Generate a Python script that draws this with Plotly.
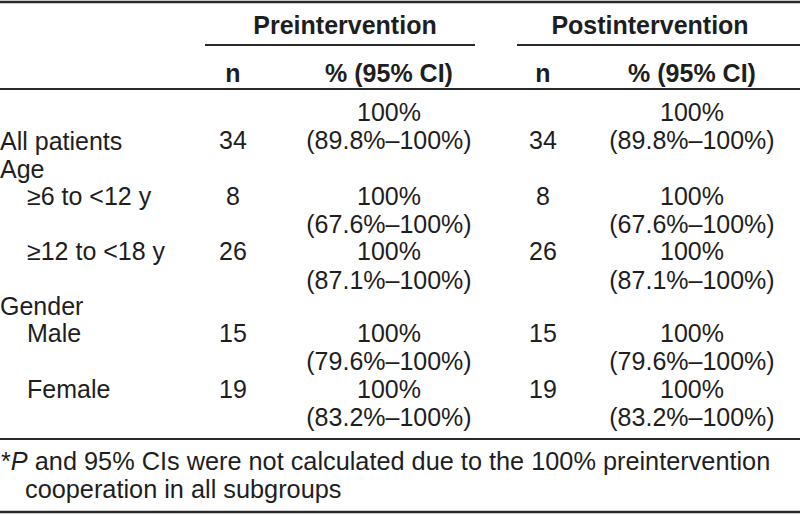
import plotly.graph_objects as go

# ---------------- data ----------------
row_labels = ["All patients", "Age", "≥6 to <12 y", "≥12 to <18 y", "Gender", "Male", "Female"]
row_indent = [0, 0, 1, 1, 0, 1, 1]

n_pre = [34, None, 8, 26, None, 15, 19]
pct_pre = [100, None, 100, 100, None, 100, 100]
ci_pre_low = [89.8, None, 67.6, 87.1, None, 79.6, 83.2]
ci_pre_high = [100, None, 100, 100, None, 100, 100]

n_post = [34, None, 8, 26, None, 15, 19]
pct_post = [100, None, 100, 100, None, 100, 100]
ci_post_low = [89.8, None, 67.6, 87.1, None, 79.6, 83.2]
ci_post_high = [100, None, 100, 100, None, 100, 100]

group_headers = ["Preintervention", "Postintervention"]
sub_headers = ["n", "% (95% CI)"]
footnote_lines = [
    "*<i>P</i> and 95% CIs were not calculated due to the 100% preintervention",
    "cooperation in all subgroups",
]

# ---------------- layout constants (positions / styles) ----------------
W, H = 800, 515
FONT = "Liberation Sans, Arial, sans-serif"
FS = 25
TXT = "#1e1e1e"
LINE = "#2a2a2a"
DY = 3  # vertical correction of text anchor

label_x = [0, 27]
label_y = [141, 169, 196, 251, 306, 333, 389]
pct_y = [112, None, 196, 251, None, 333, 389]
ci_y = [140, None, 224, 280, None, 361, 417]
n_y = [140, None, 196, 251, None, 333, 389]

pre_n_x, pre_ci_x = 233, 389
post_n_x, post_ci_x = 543, 692
group_x = [345, 650]
group_y = 25
sub_y = 73
foot_x = [1, 25]
foot_y = [461, 489]


def fmt_pct(v):
    return f"{v:g}%"


def fmt_ci(lo, hi):
    return f"({lo:g}%–{hi:g}%)"


fig = go.Figure()


def add_text(xs, ys, texts, pos="middle center", bold=False, size=FS):
    fig.add_trace(go.Scatter(
        x=xs, y=[y + DY for y in ys], text=texts, mode="text", textposition=pos,
        textfont=dict(family=FONT, size=size, color=TXT,
                      weight="bold" if bold else "normal"),
        hoverinfo="skip", showlegend=False, cliponaxis=False,
    ))


# row labels
add_text([label_x[i] for i in row_indent], label_y, row_labels, pos="middle right")

# columns for both periods
for n_vals, pct_vals, lo_vals, hi_vals, nx, cx in [
    (n_pre, pct_pre, ci_pre_low, ci_pre_high, pre_n_x, pre_ci_x),
    (n_post, pct_post, ci_post_low, ci_post_high, post_n_x, post_ci_x),
]:
    idx = [i for i, v in enumerate(n_vals) if v is not None]
    add_text([nx] * len(idx), [n_y[i] for i in idx], [str(n_vals[i]) for i in idx])
    add_text([cx] * len(idx), [pct_y[i] for i in idx], [fmt_pct(pct_vals[i]) for i in idx])
    add_text([cx] * len(idx), [ci_y[i] for i in idx],
             [fmt_ci(lo_vals[i], hi_vals[i]) for i in idx])

# headers
add_text(group_x, [group_y] * 2, group_headers, bold=True)
add_text([pre_n_x, pre_ci_x, post_n_x, post_ci_x], [sub_y] * 4, sub_headers * 2, bold=True)

# footnote
add_text(foot_x, foot_y, footnote_lines, pos="middle right", size=25.3)

# rules
rules = [
    (0, W, 2, 2.5),
    (205, 475, 45, 2),
    (517, W, 45, 2),
    (0, W, 89, 2),
    (0, W, 439, 2),
    (0, W, 512, 2.5),
]
for x0, x1, y, w in rules:
    fig.add_shape(type="line", x0=x0, x1=x1, y0=y, y1=y, xref="x", yref="y",
                  line=dict(color=LINE, width=w))

fig.update_layout(
    width=W, height=H,
    margin=dict(l=0, r=0, t=0, b=0),
    paper_bgcolor="white", plot_bgcolor="white",
    xaxis=dict(range=[0, W], visible=False, fixedrange=True),
    yaxis=dict(range=[H, 0], visible=False, fixedrange=True),
    showlegend=False,
)

# remove the browser's default 8px body margin so the figure fills the window
fig.write_html(
    "out.html",
    config={"displayModeBar": False, "staticPlot": True},
    post_script="document.body.style.margin='0';document.body.style.overflow='hidden';",
)
